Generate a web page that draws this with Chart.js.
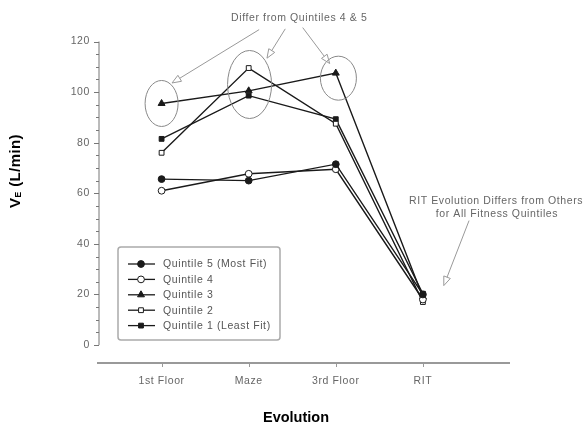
<!DOCTYPE html>
<html>
<head>
<meta charset="utf-8">
<script src="https://cdn.jsdelivr.net/npm/chart.js@4/dist/chart.umd.min.js"></script>
<style>
  html, body { margin: 0; padding: 0; background: #fff; }
  #wrap { width: 584px; height: 427px; position: relative; }
</style>
</head>
<body>
<div id="wrap"><canvas id="veChart"></canvas></div>
<script>
// stages of the evolution test
const stages = ["1st Floor", "Maze", "3rd Floor", "RIT"];

// ventilation (L/min) per fitness quintile
const quintile5 = [65.6, 65.0, 71.5, 20.0];
const quintile4 = [61.0, 67.7, 69.5, 18.0];
const quintile3 = [95.5, 100.5, 107.5, 19.0];
const quintile2 = [76.0, 109.5, 87.5, 17.0];
const quintile1 = [81.5, 98.6, 89.3, 20.3];

const seriesNames = ["Quintile 5 (Most Fit)", "Quintile 4", "Quintile 3", "Quintile 2", "Quintile 1 (Least Fit)"];
const yTicks = [0, 20, 40, 60, 80, 100, 120];

const ink = "#1a1a1a";
const sans = "Arial, 'Liberation Sans', sans-serif";

function toPoints(values) {
  return values.map((v, i) => ({ x: i + 1, y: v }));
}

function series(name, values, style, filled) {
  return {
    label: name,
    data: toPoints(values),
    borderColor: ink,
    borderWidth: 1.4,
    pointStyle: style,
    pointRadius: style === "triangle" ? 4 : 3.4,
    pointBorderWidth: 1,
    pointBorderColor: ink,
    pointBackgroundColor: filled ? ink : "#fff",
    tension: 0,
    fill: false
  };
}

// ellipses around the points that differ from quintiles 4 & 5 (data units, radii in px)
const rings = [
  { x: 1.0, y: 95.5, rx: 16.5, ry: 23 },
  { x: 2.01, y: 103, rx: 22, ry: 34 },
  { x: 3.03, y: 105.5, rx: 18, ry: 22 }
];

// arrows [from, to] in data units
const arrows = [
  [[2.12, 124.7], [1.12, 103.6]],
  [[2.42, 125.0], [2.21, 113.4]],
  [[2.62, 125.5], [2.93, 111.3]],
  [[4.53, 49.2], [4.24, 23.5]]
];

const notes = [
  { x: 2.58, y: 129.2, text: "Differ from Quintiles 4 & 5" },
  { x: 4.84, y: 56.8, text: "RIT Evolution Differs from Others" },
  { x: 4.85, y: 51.6, text: "for All Fitness Quintiles" }
];

function drawArrow(ctx, x1, y1, x2, y2) {
  const ang = Math.atan2(y2 - y1, x2 - x1);
  const len = 9, half = 3.5;
  const bx = x2 - Math.cos(ang) * len, by = y2 - Math.sin(ang) * len;
  ctx.beginPath();
  ctx.moveTo(x1, y1);
  ctx.lineTo(bx, by);
  ctx.stroke();
  ctx.beginPath();
  ctx.moveTo(x2, y2);
  ctx.lineTo(bx - Math.sin(ang) * half, by + Math.cos(ang) * half);
  ctx.lineTo(bx + Math.sin(ang) * half, by - Math.cos(ang) * half);
  ctx.closePath();
  ctx.stroke();
}

const decorations = {
  id: "decorations",
  beforeDraw(chart) {
    // the small gray text in this figure is loosely spaced
    chart.ctx.letterSpacing = "0.6px";
  },
  afterDraw(chart) {
    const { ctx, chartArea } = chart;
    const xs = chart.scales.x, ys = chart.scales.y;
    ctx.save();

    // y axis line with major/minor ticks
    const ax = chartArea.left + 1;
    ctx.strokeStyle = "#777";
    ctx.lineWidth = 1;
    ctx.beginPath();
    ctx.moveTo(ax, ys.getPixelForValue(0));
    ctx.lineTo(ax, ys.getPixelForValue(120));
    for (let v = 0; v <= 120; v += 5) {
      const py = Math.round(ys.getPixelForValue(v)) + 0.5;
      ctx.moveTo(ax, py);
      ctx.lineTo(ax - (v % 20 === 0 ? 5 : 3), py);
    }
    ctx.stroke();

    // x axis line with ticks
    const ay = chartArea.bottom;
    ctx.strokeStyle = "#999";
    ctx.lineWidth = 2;
    ctx.beginPath();
    ctx.moveTo(chartArea.left - 1, ay);
    ctx.lineTo(chartArea.right, ay);
    ctx.stroke();
    ctx.lineWidth = 1;
    ctx.beginPath();
    stages.forEach((s, i) => {
      const px = Math.round(xs.getPixelForValue(i + 1)) + 0.5;
      ctx.moveTo(px, ay);
      ctx.lineTo(px, ay + 4);
    });
    ctx.stroke();

    // rings
    ctx.strokeStyle = "#888";
    ctx.lineWidth = 1;
    rings.forEach(r => {
      ctx.beginPath();
      ctx.ellipse(xs.getPixelForValue(r.x), ys.getPixelForValue(r.y), r.rx, r.ry, 0, 0, Math.PI * 2);
      ctx.stroke();
    });

    // arrows
    ctx.strokeStyle = "#999";
    arrows.forEach(([a, b]) => {
      drawArrow(ctx, xs.getPixelForValue(a[0]), ys.getPixelForValue(a[1]),
        xs.getPixelForValue(b[0]), ys.getPixelForValue(b[1]));
    });

    // notes
    ctx.fillStyle = "#666";
    ctx.font = "10.5px " + sans;
    ctx.textAlign = "center";
    ctx.textBaseline = "middle";
    notes.forEach(n => ctx.fillText(n.text, xs.getPixelForValue(n.x), ys.getPixelForValue(n.y)));

    // legend box
    const lx = 118, ly = 247, lw = 162, lh = 93;
    ctx.strokeStyle = "#aaa";
    ctx.lineWidth = 1.5;
    ctx.beginPath();
    ctx.roundRect(lx, ly, lw, lh, 3);
    ctx.stroke();
    ctx.textAlign = "left";
    chart.data.datasets.forEach((ds, i) => {
      const ey = 264 + i * 15.4;
      ctx.strokeStyle = ink;
      ctx.lineWidth = 1.3;
      ctx.beginPath();
      ctx.moveTo(128, ey);
      ctx.lineTo(155, ey);
      ctx.stroke();
      ctx.fillStyle = ds.pointBackgroundColor;
      ctx.strokeStyle = ink;
      ctx.lineWidth = 1;
      Chart.helpers.drawPoint(ctx, { pointStyle: ds.pointStyle, radius: ds.pointRadius, borderWidth: 1, rotation: 0 }, 141, ey);
      ctx.fillStyle = "#555";
      ctx.fillText(ds.label, 163, ey + 0.5);
    });

    // axis titles
    ctx.letterSpacing = "0px";
    ctx.fillStyle = "#000";
    ctx.textAlign = "center";
    ctx.font = "bold 14.5px " + sans;
    ctx.fillText("Evolution", 296, 418);

    ctx.translate(16, 171);
    ctx.rotate(-Math.PI / 2);
    ctx.letterSpacing = "0.4px";
    const big = "bold 15px " + sans;
    const small = "bold 8.5px " + sans;
    ctx.font = big;
    const wV = ctx.measureText("V").width;
    const wRest = ctx.measureText(" (L/min)").width;
    ctx.font = small;
    const wE = ctx.measureText("E").width;
    let tx = -(wV + wE + wRest) / 2;
    ctx.textAlign = "left";
    ctx.font = big;
    ctx.fillText("V", tx, 0);
    tx += wV;
    ctx.font = small;
    ctx.fillText("E", tx, 2.5);
    tx += wE;
    ctx.font = big;
    ctx.fillText(" (L/min)", tx, 0);

    ctx.restore();
  }
};

new Chart(document.getElementById("veChart"), {
  type: "line",
  data: {
    datasets: [
      series(seriesNames[0], quintile5, "circle", true),
      series(seriesNames[1], quintile4, "circle", false),
      series(seriesNames[2], quintile3, "triangle", true),
      series(seriesNames[3], quintile2, "rect", false),
      series(seriesNames[4], quintile1, "rect", true)
    ]
  },
  options: {
    responsive: true,
    maintainAspectRatio: false,
    animation: false,
    layout: { padding: { top: 41.5, right: 74, left: 0, bottom: 0 } },
    plugins: {
      legend: { display: false },
      tooltip: { enabled: false }
    },
    scales: {
      x: {
        type: "linear",
        min: 0.27,
        max: 5.0,
        grid: { display: false, drawTicks: false },
        border: { display: false },
        afterBuildTicks: scale => { scale.ticks = stages.map((s, i) => ({ value: i + 1 })); },
        afterFit: scale => { scale.height = 64; },
        ticks: {
          padding: 12,
          color: "#666",
          font: { family: sans, size: 10.5 },
          callback: v => stages[v - 1] || ""
        }
      },
      y: {
        min: -7.1,
        max: 120,
        grid: { display: false, drawTicks: false },
        border: { display: false },
        afterBuildTicks: scale => { scale.ticks = yTicks.map(v => ({ value: v })); },
        afterFit: scale => { scale.width = 98; },
        ticks: {
          padding: 8,
          color: "#666",
          font: { family: sans, size: 10.5 }
        }
      }
    }
  },
  plugins: [decorations]
});
</script>
</body>
</html>
